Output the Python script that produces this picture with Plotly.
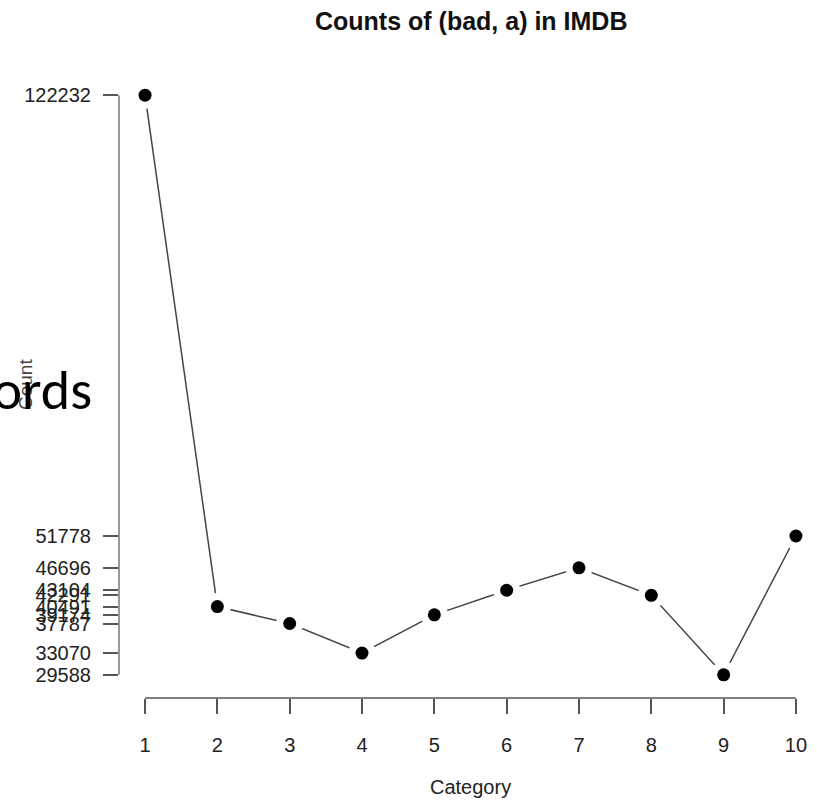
import plotly.graph_objects as go

# ---- data ----
categories = [1, 2, 3, 4, 5, 6, 7, 8, 9, 10]
counts = [122232, 40491, 37787, 33070, 39174, 43104, 46696, 42291, 29588, 51778]
x_ticks = [1, 2, 3, 4, 5, 6, 7, 8, 9, 10]
y_ticks = counts
title_text = "Counts of (bad, a) in IMDB"
x_label = "Category"
y_label = "Count"
overlay_text = "words"

W, H = 817, 802
L, T, R, B = 119, 72, 0, 104
PW = W - L - R
PH = H - T - B

# R-style 4% axis extension
span_x = max(categories) - min(categories)
x0 = min(categories) - 0.04 * span_x
px_per_x = (822 - 119) / (span_x * 1.08)
x1 = x0 + PW / px_per_x
span_y = max(counts) - min(counts)
y0 = min(counts) - 0.04 * span_y
y1 = max(counts) + 0.04 * span_y


def px(xpix):
    return (xpix - L) / PW


def py(ypix):
    return (H - B - ypix) / PH


fig = go.Figure()
fig.add_trace(go.Scatter(x=categories, y=counts, mode="lines",
                         line=dict(color="#444444", width=1.5),
                         hoverinfo="skip", showlegend=False))
fig.add_trace(go.Scatter(x=categories, y=counts, mode="markers",
                         marker=dict(color="white", size=27, line=dict(width=0)),
                         hoverinfo="skip", showlegend=False, cliponaxis=False))
fig.add_trace(go.Scatter(x=categories, y=counts, mode="markers",
                         marker=dict(color="black", size=13, line=dict(width=0)),
                         showlegend=False, cliponaxis=False))

font_family = "Liberation Sans, Arial, Helvetica, sans-serif"

fig.update_layout(
    width=W, height=H,
    margin=dict(l=L, r=R, t=T, b=B, pad=0),
    paper_bgcolor="white", plot_bgcolor="white",
    font=dict(family=font_family, color="#222222", size=20),
    xaxis=dict(range=[x0, x1], tickmode="array", tickvals=x_ticks,
               ticktext=[str(v) for v in x_ticks],
               showgrid=False, zeroline=False, showline=False,
               ticks="outside", ticklen=15, tickwidth=1.5, tickcolor="#555555",
               tickfont=dict(size=20, color="#222222", family=font_family),
               ticklabelstandoff=14),
    yaxis=dict(range=[y0, y1], tickmode="array", tickvals=y_ticks,
               ticktext=[str(v) for v in y_ticks],
               showgrid=False, zeroline=False, showline=False,
               ticks="outside", ticklen=15, tickwidth=1.5, tickcolor="#555555",
               tickfont=dict(size=20, color="#222222", family=font_family),
               ticklabelstandoff=8),
    shapes=[
        dict(type="line", xref="x", yref="paper", x0=min(x_ticks), x1=max(x_ticks),
             y0=0, y1=0, line=dict(color="#555555", width=1.5)),
        dict(type="line", xref="paper", yref="y", x0=0, x1=0,
             y0=min(y_ticks), y1=max(y_ticks), line=dict(color="#999999", width=2)),
    ],
    annotations=[
        dict(text="<b>" + title_text + "</b>", xref="paper", yref="paper",
             x=px(470.5), y=py(21), xanchor="center", yanchor="middle",
             showarrow=False, font=dict(size=25, color="#111111", family=font_family)),
        dict(text=x_label, xref="paper", yref="paper",
             x=px(470.5), y=py(787), xanchor="center", yanchor="middle",
             showarrow=False, font=dict(size=20, color="#222222", family=font_family)),
        dict(text=y_label, xref="paper", yref="paper", textangle=-90,
             x=px(25), y=py(385), xanchor="center", yanchor="middle",
             showarrow=False, font=dict(size=19, color="#444444", family=font_family)),
        dict(text=overlay_text, xref="paper", yref="paper",
             x=px(94), y=py(390), xanchor="right", yanchor="middle",
             showarrow=False, font=dict(size=56, color="black",
                                        family="Carlito, Lato, sans-serif")),
    ],
)

fig.write_html(
    "out.html",
    config={"displayModeBar": False},
    post_script="document.body.style.margin='0';document.body.style.overflow='hidden';",
)
